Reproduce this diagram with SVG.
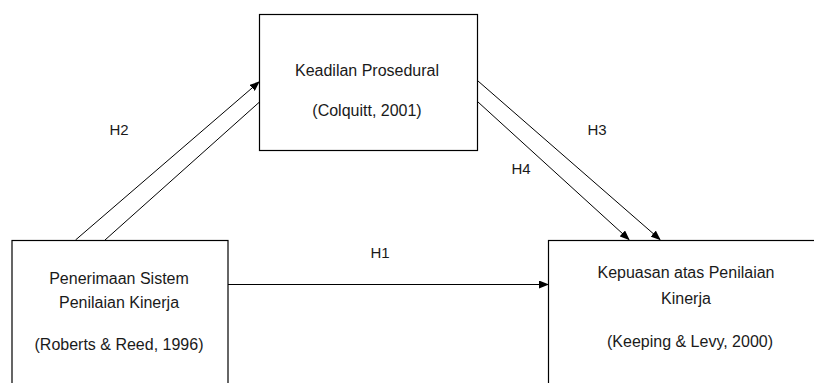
<svg xmlns="http://www.w3.org/2000/svg" width="814" height="383" viewBox="0 0 814 383">
<style>
.box{fill:#fff;stroke:#000;stroke-width:1.2}
.ln{stroke:#000;stroke-width:1;fill:none}
text{font-family:"Liberation Sans",Arial,sans-serif;font-size:16px;fill:#1a1a1a;text-anchor:middle}
.h{font-size:15px}
</style>
<defs>
<marker id="ah" markerWidth="10" markerHeight="8" refX="9" refY="4" orient="auto" markerUnits="userSpaceOnUse">
<path d="M0,0 L10,4 L0,8 Z" fill="#000"/>
</marker>
</defs>
<rect width="814" height="383" fill="#fff"/>
<g id="edges">
<line class="ln" x1="75.5" y1="240" x2="259" y2="82" marker-end="url(#ah)"/>
<line class="ln" x1="105" y1="240" x2="259.5" y2="102"/>
<line class="ln" x1="478" y1="81" x2="660" y2="239.5" marker-end="url(#ah)"/>
<line class="ln" x1="478" y1="102" x2="629" y2="239.5" marker-end="url(#ah)"/>
<line class="ln" x1="228" y1="284.5" x2="548" y2="284.5" marker-end="url(#ah)"/>
<text class="h" x="119" y="135">H2</text>
<text class="h" x="597" y="135">H3</text>
<text class="h" x="521" y="174">H4</text>
<text class="h" x="380" y="258">H1</text>
</g>
<g id="n-keadilan">
<rect class="box" x="259.5" y="14.5" width="218" height="136"/>
<text x="367" y="76">Keadilan Prosedural</text>
<text x="367" y="116">(Colquitt, 2001)</text>
</g>
<g id="n-penerimaan">
<rect class="box" x="12" y="240.5" width="216" height="150"/>
<text x="119" y="284">Penerimaan Sistem</text>
<text x="119" y="308">Penilaian Kinerja</text>
<text x="119" y="350">(Roberts &amp; Reed, 1996)</text>
</g>
<g id="n-kepuasan">
<rect class="box" x="548.5" y="240.5" width="280" height="150"/>
<text x="686" y="278">Kepuasan atas Penilaian</text>
<text x="686" y="304">Kinerja</text>
<text x="690" y="347">(Keeping &amp; Levy, 2000)</text>
</g>
</svg>
